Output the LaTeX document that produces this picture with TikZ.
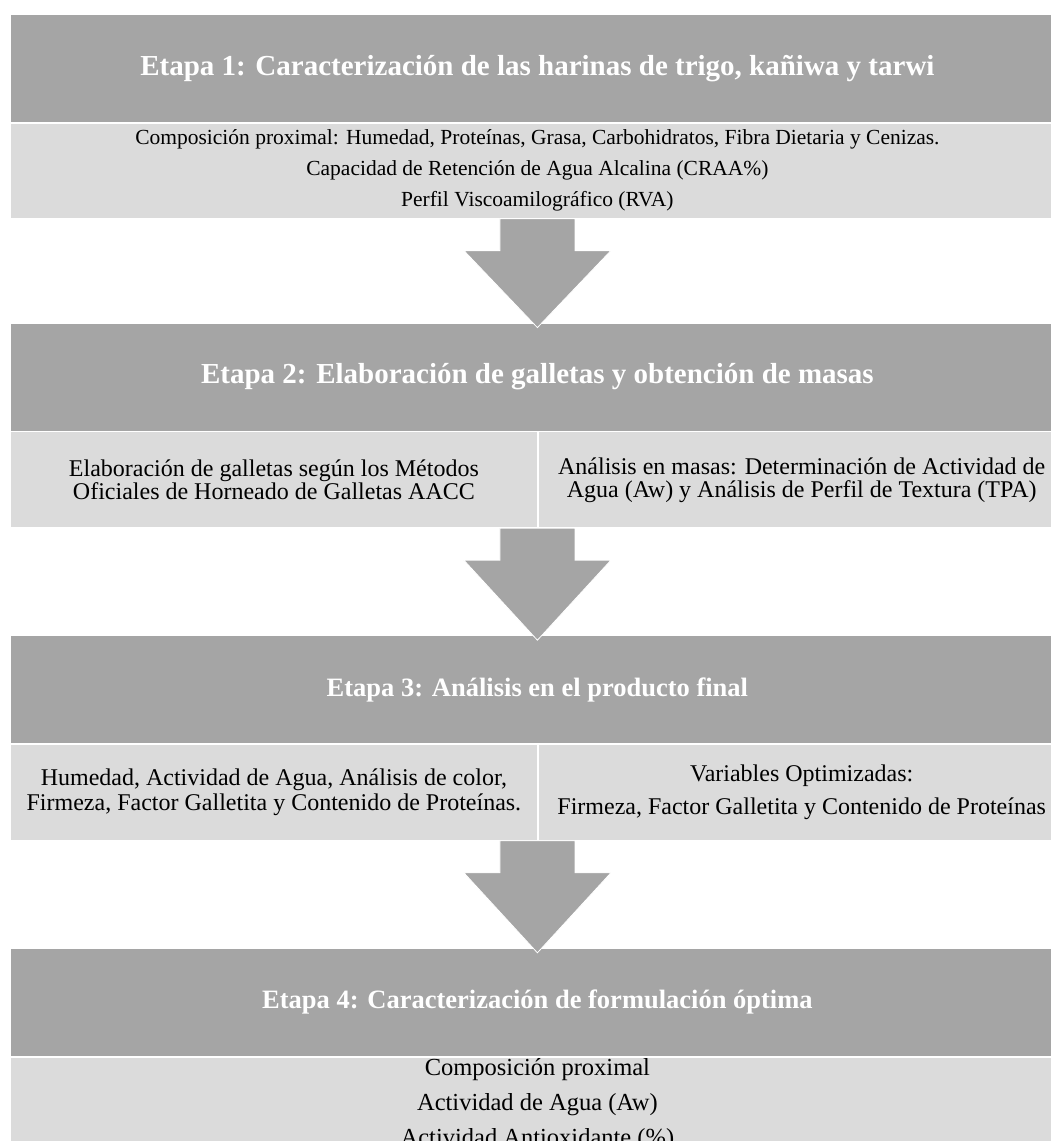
\documentclass[tikz,border=0pt]{standalone}
\usepackage{fontspec}
\setmainfont{Liberation Serif}
\usepackage{tikz}
\usetikzlibrary{positioning, calc}
\definecolor{headgray}{RGB}{165,165,165}
\definecolor{bandgray}{RGB}{219,219,219}

\begin{document}
\begin{tikzpicture}[
      x=1pt, y=-1pt,
      head/.style={rectangle, fill=headgray, draw=white, line width=0.8pt, text=white, font=\fontsize{26.5}{30}\selectfont\bfseries, minimum width=1054pt, minimum height=108pt, inner sep=0pt},
      band/.style={rectangle, fill=bandgray, draw=white, line width=0.8pt, align=center, font=\fontsize{21.5}{31}\selectfont, minimum width=1054pt, minimum height=95pt, inner sep=0pt},
      halfband/.style={band, minimum width=527pt, minimum height=96pt},
      downarrow/.style={fill=headgray, draw=white, line width=0.8pt},
    ]
    \useasboundingbox (0,0) rectangle (1051,1141);
    \clip (0,0) rectangle (1051,1141);

    \node[head, font=\fontsize{29}{32}\selectfont\bfseries, anchor=north west] (h1) at (10,14) {Etapa 1: Caracterización de las harinas de trigo, kañiwa y tarwi};
    \node[band, below=0pt of h1] (b1) {Composición proximal: Humedad, Proteínas, Grasa, Carbohidratos, Fibra Dietaria y Cenizas.\\Capacidad de Retención de Agua Alcalina (CRAA\%)\\Perfil Viscoamilográfico (RVA)};

    \node[head, font=\fontsize{29}{32}\selectfont\bfseries, below=104pt of b1] (h2) {Etapa 2: Elaboración de galletas y obtención de masas};
    \node[halfband, font=\fontsize{24}{23}\selectfont, below right=0pt and 0pt of h2.south west] (b2l) {Elaboración de galletas según los Métodos\\Oficiales de Horneado de Galletas AACC};
    \node[halfband, font=\fontsize{24}{23}\selectfont, right=0pt of b2l] (b2r) {Análisis en masas: Determinación de Actividad de\\Agua (Aw) y Análisis de Perfil de Textura (TPA)};

    \node[head, below right=107pt and 0pt of b2l.south west] (h3) {Etapa 3: Análisis en el producto final};
    \node[halfband, font=\fontsize{24}{25}\selectfont, below right=0pt and 0pt of h3.south west] (b3l) {Humedad, Actividad de Agua, Análisis de color,\\Firmeza, Factor Galletita y Contenido de Proteínas.};
    \node[halfband, font=\fontsize{24}{33}\selectfont, right=0pt of b3l] (b3r) {Variables Optimizadas:\\Firmeza, Factor Galletita y Contenido de Proteínas};

    \node[head, below right=107pt and 0pt of b3l.south west] (h4) {Etapa 4: Caracterización de formulación óptima};
    \node[band, font=\fontsize{24.5}{35}\selectfont, below=0pt of h4] (b4) {Composición proximal\\Actividad de Agua (Aw)\\Actividad Antioxidante (\%)};

    % flechas entre etapas
    \foreach \s/\t in {b1/h2, b2l/h3, b3l/h4}
      \draw[downarrow] ($(\t.north |- \s.south)+(-37.5,0)$) -- ++(0,32) -- ++(-36,0) -- ($(\t.north)+(0,5)$)
        -- ($(\t.north |- \s.south)+(73.5,32)$) -- ++(-36,0) -- ++(0,-32) -- cycle;
  \end{tikzpicture}
\end{document}
